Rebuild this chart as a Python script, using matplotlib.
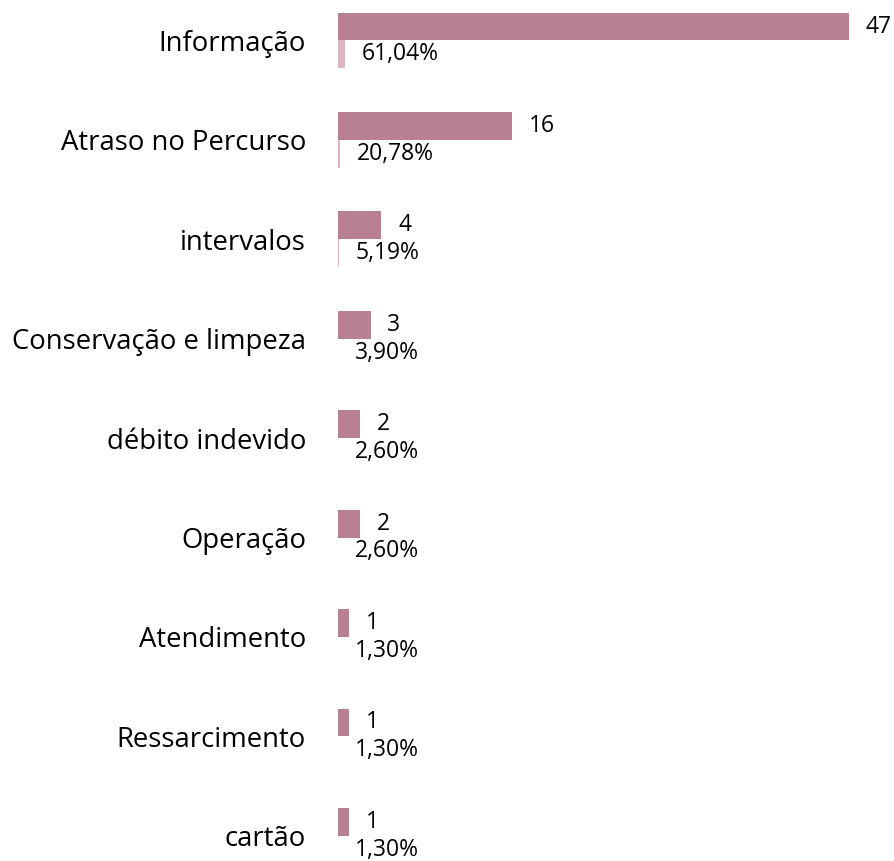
import matplotlib.pyplot as plt
import numpy as np

categories = ["Informação", "Atraso no Percurso", "intervalos", "Conservação e limpeza",
              "débito indevido", "Operação", "Atendimento", "Ressarcimento", "cartão"]
counts = [47, 16, 4, 3, 2, 2, 1, 1, 1]
shares = [0.6104, 0.2078, 0.0519, 0.0390, 0.0260, 0.0260, 0.0130, 0.0130, 0.0130]

DARK = "#B88091"
LIGHT = "#DFB5C3"

plt.rcParams["font.family"] = ["Open Sans", "DejaVu Sans"]

fig = plt.figure(figsize=(8.95, 8.61), dpi=100)
ax = fig.add_axes([338 / 895, 0, (895 - 338) / 895, 1])

y = np.arange(len(categories))
h = 0.28
b1 = ax.barh(y - h / 2, counts, height=h, color=DARK)
b2 = ax.barh(y + h / 2, shares, height=h, color=LIGHT)

for rect, v in zip(b1, counts):
    ax.annotate(str(v), (rect.get_width(), rect.get_y() + rect.get_height() / 2),
                xytext=(12, 0), textcoords="offset points",
                ha="left", va="center", fontsize=16.5)
for rect, v in zip(b2, shares):
    ax.annotate(f"{v * 100:.2f}%".replace(".", ","),
                (rect.get_width(), rect.get_y() + rect.get_height() / 2),
                xytext=(12, 0), textcoords="offset points",
                ha="left", va="center", fontsize=16.5)

ax.set_yticks(y)
ax.set_yticklabels(categories, fontsize=19.8)
ax.tick_params(axis="y", length=0, pad=23)
ax.set_xticks([])
ax.set_xlim(0, 51.25)
ax.set_ylim(8.254, -0.407)
for s in ax.spines.values():
    s.set_visible(False)

fig.savefig("out.png", dpi=100)
